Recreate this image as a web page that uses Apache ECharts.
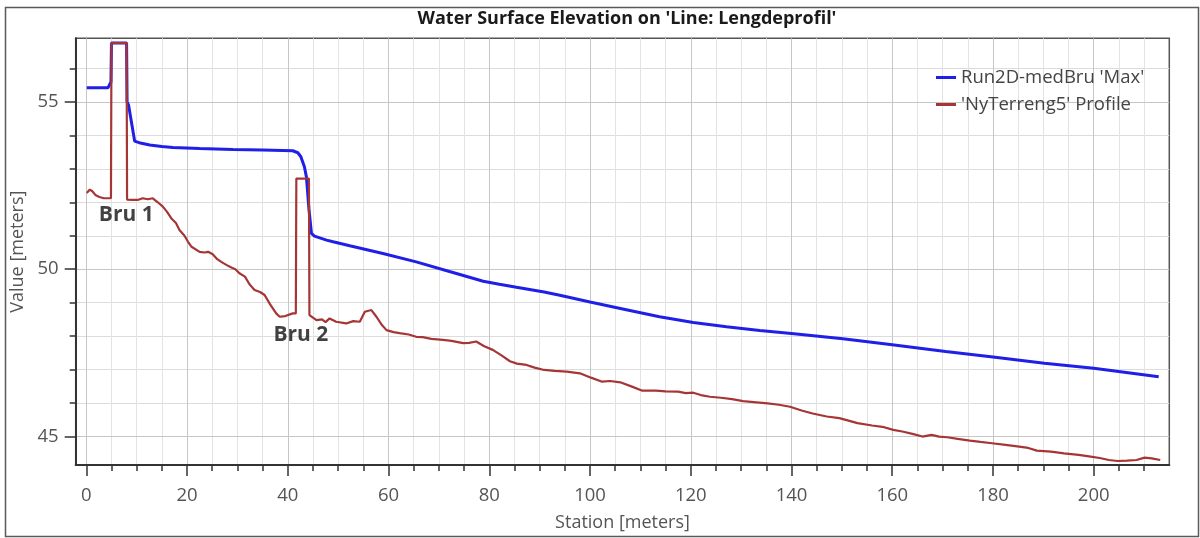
<!DOCTYPE html>
<html>
<head>
<meta charset="utf-8">
<script src="https://cdn.jsdelivr.net/npm/echarts@6/dist/echarts.min.js"></script>
<style>
  html, body { margin: 0; padding: 0; background: #ffffff; }
  #chart { width: 1200px; height: 538px; }
</style>
</head>
<body>
<div id="chart"></div>
<script>
// ---- Data ----
const titleText = "Water Surface Elevation on 'Line: Lengdeprofil'";
const seriesNames = ["Run2D-medBru 'Max'", "'NyTerreng5' Profile"];

const blueStation = [0.1, 4.3, 4.9, 5.0, 8.0, 8.1, 8.4, 9.6, 10.5, 12.6, 15, 17.2, 22.5, 29.1, 35, 41.0, 42.0, 42.6, 43.3, 43.7, 44.2, 44.7, 45.3, 47.7, 49.0, 52.3, 58.9, 65.5, 72.1, 78.8, 82, 85.4, 90.9, 94.0, 100, 107.2, 113.8, 120.5, 127.1, 133.7, 140, 150.2, 160, 170.6, 180, 190.2, 200, 212.9];
const blueValue = [55.42, 55.42, 55.6, 56.76, 56.76, 55.0, 54.9, 53.83, 53.78, 53.71, 53.67, 53.64, 53.61, 53.58, 53.56, 53.54, 53.48, 53.36, 53.06, 52.76, 51.8, 51.07, 50.99, 50.87, 50.82, 50.70, 50.47, 50.22, 49.93, 49.64, 49.55, 49.46, 49.32, 49.22, 49.02, 48.79, 48.58, 48.41, 48.28, 48.17, 48.08, 47.92, 47.74, 47.54, 47.38, 47.19, 47.04, 46.79];

const redStation = [0.1, 0.7, 1.2, 1.8, 2.6, 3.5, 4.9, 5.0, 8.0, 8.1, 9.0, 10.2, 11.2, 12.2, 13.2, 14.2, 15.2, 16.0, 17.0, 17.8, 18.5, 19.5, 20.2, 20.9, 22.5, 23.5, 24.2, 25.1, 26.0, 26.8, 27.8, 28.8, 29.6, 30.4, 31.5, 32.4, 33.4, 34.5, 35.4, 36.5, 37.7, 38.4, 39.5, 41.0, 41.6, 41.7, 44.2, 44.3, 45.7, 46.8, 47.5, 48.3, 49.6, 51.6, 53.0, 54.3, 55.3, 56.6, 57.6, 58.6, 59.6, 61.0, 62.2, 64.0, 65.5, 66.8, 68.5, 70.8, 72.5, 74.8, 76.0, 77.4, 79.0, 80.7, 82.5, 84.1, 85.5, 87.4, 89.0, 90.9, 93.0, 95.4, 98.0, 100.2, 102.4, 104.0, 106, 108.2, 110.4, 113.1, 115.0, 117.5, 119.0, 120.5, 122.0, 123.8, 126, 128.2, 130.4, 132.5, 135.3, 137.5, 139.7, 142, 144.2, 147, 149.5, 151.5, 153.1, 156, 158.4, 160.2, 162, 164, 166, 167.8, 169.3, 170.9, 173, 175.4, 177.5, 179.8, 182.5, 185.2, 187, 188.7, 191.5, 194.1, 197, 199.4, 201.2, 203, 204.8, 206.6, 208.5, 210.1, 211.5, 213.2];
const redValue = [52.28, 52.38, 52.33, 52.22, 52.16, 52.12, 52.12, 56.76, 56.76, 52.08, 52.07, 52.07, 52.12, 52.09, 52.12, 52.0, 51.87, 51.72, 51.5, 51.38, 51.17, 51.0, 50.82, 50.67, 50.52, 50.5, 50.52, 50.45, 50.3, 50.22, 50.13, 50.05, 50.0, 49.88, 49.78, 49.55, 49.38, 49.32, 49.23, 48.95, 48.68, 48.58, 48.6, 48.68, 48.68, 52.71, 52.71, 48.63, 48.48, 48.5, 48.42, 48.53, 48.43, 48.38, 48.45, 48.43, 48.73, 48.78, 48.58, 48.35, 48.18, 48.12, 48.09, 48.05, 47.98, 47.97, 47.92, 47.89, 47.86, 47.79, 47.8, 47.84, 47.7, 47.59, 47.42, 47.25, 47.18, 47.14, 47.06, 46.99, 46.96, 46.94, 46.89, 46.76, 46.64, 46.66, 46.62, 46.5, 46.37, 46.37, 46.35, 46.34, 46.3, 46.31, 46.24, 46.19, 46.16, 46.12, 46.06, 46.03, 45.99, 45.95, 45.89, 45.78, 45.69, 45.6, 45.55, 45.47, 45.40, 45.33, 45.28, 45.2, 45.15, 45.08, 45.0, 45.05, 45.0, 44.98, 44.93, 44.88, 44.84, 44.80, 44.75, 44.70, 44.66, 44.58, 44.55, 44.50, 44.45, 44.40, 44.36, 44.30, 44.27, 44.28, 44.30, 44.37, 44.35, 44.30];

const annotationLabels = ["Bru 1", "Bru 2"];
const annotationStation = [7.94, 42.6];
const annotationValue = [51.62, 48.04];

const xMajorTicks = [0, 20, 40, 60, 80, 100, 120, 140, 160, 180, 200];
const xMinorTicks = [5, 10, 15, 25, 30, 35, 45, 50, 55, 65, 70, 75, 85, 90, 95, 105, 110, 115, 125, 130, 135, 145, 150, 155, 165, 170, 175, 185, 190, 195, 205, 210];
const yMajorTicks = [45, 50, 55];
const yMinorTicks = [46, 47, 48, 49, 51, 52, 53, 54, 56];

const xName = "Station [meters]";
const yName = "Value [meters]";

// ---- Build ----
const zip = (a, b) => a.map((v, i) => [v, b[i]]);
const FONT = "Open Sans";
const X_MIN = -2.1, X_MAX = 215, Y_MIN = 44.15, Y_MAX = 56.9;

const chart = echarts.init(document.getElementById('chart'), null, { renderer: 'canvas' });

const xBase = {
  type: 'value', min: X_MIN, max: X_MAX, position: 'bottom', gridIndex: 0
};
const yBase = {
  type: 'value', min: Y_MIN, max: Y_MAX, position: 'left', gridIndex: 0
};

chart.setOption({
  animation: false,
  backgroundColor: '#ffffff',
  title: {
    text: titleText,
    left: 622, textAlign: 'center', top: 5,
    textStyle: { fontFamily: FONT, fontWeight: 'bold', fontSize: 18, color: '#1a1a1a' }
  },
  graphic: [{
    type: 'rect', silent: true, z: -10,
    shape: { x: 5.5, y: 7.5, width: 1193, height: 529 },
    style: { fill: 'none', stroke: '#5a5a5a', lineWidth: 1.5 }
  }],
  legend: {
    data: seriesNames,
    orient: 'vertical',
    left: 931, top: 63,
    itemWidth: 20, itemHeight: 3, itemGap: 8,
    icon: 'rect',
    textStyle: { fontFamily: FONT, fontSize: 18.5, color: '#444' }
  },
  grid: {
    left: 75.7, right: 30.7, top: 38.3, bottom: 73,
    show: true, borderColor: '#555', borderWidth: 1.5, backgroundColor: '#ffffff',
    containLabel: false, outerBoundsMode: 'none'
  },
  xAxis: [
    Object.assign({}, xBase, {
      z: 3,
      name: xName, nameLocation: 'middle', nameGap: 49,
      nameTextStyle: { fontFamily: FONT, fontSize: 18, color: '#555' },
      axisLine: { show: true, onZero: false, lineStyle: { color: '#333', width: 2 } },
      axisTick: { show: true, customValues: xMajorTicks, length: 11, lineStyle: { color: '#333', width: 1.5 } },
      axisLabel: { show: true, customValues: xMajorTicks, margin: 21, fontFamily: FONT, fontSize: 18.5, color: '#555' },
      splitLine: { show: true, lineStyle: { color: '#c6c6c6', width: 1 } }
    }),
    Object.assign({}, xBase, {
      z: 2,
      axisLine: { show: false, onZero: false },
      axisTick: { show: true, customValues: xMinorTicks, length: 6, lineStyle: { color: '#333', width: 1.5 } },
      axisLabel: { show: false },
      splitLine: { show: true, lineStyle: { color: '#e3e3e3', width: 1 } }
    })
  ],
  yAxis: [
    Object.assign({}, yBase, {
      z: 3,
      name: yName, nameLocation: 'middle', nameGap: 47,
      nameTextStyle: { fontFamily: FONT, fontSize: 18, color: '#555' },
      axisLine: { show: true, onZero: false, lineStyle: { color: '#333', width: 2 } },
      axisTick: { show: true, customValues: yMajorTicks, length: 11, lineStyle: { color: '#333', width: 1.5 } },
      axisLabel: { show: true, customValues: yMajorTicks, margin: 17, fontFamily: FONT, fontSize: 18.5, color: '#555' },
      splitLine: { show: true, lineStyle: { color: '#c6c6c6', width: 1 } }
    }),
    Object.assign({}, yBase, {
      z: 2,
      axisLine: { show: false, onZero: false },
      axisTick: { show: true, customValues: yMinorTicks, length: 6, lineStyle: { color: '#333', width: 1.5 } },
      axisLabel: { show: false },
      splitLine: { show: true, lineStyle: { color: '#dcdcdc', width: 1 } }
    })
  ],
  series: [
    {
      name: seriesNames[0], type: 'line', xAxisIndex: 0, yAxisIndex: 0,
      data: zip(blueStation, blueValue),
      showSymbol: false, symbol: 'none', smooth: false, z: 4,
      lineStyle: { color: '#1f1fe8', width: 3 },
      itemStyle: { color: '#1f1fe8' }
    },
    {
      name: seriesNames[1], type: 'line', xAxisIndex: 0, yAxisIndex: 0,
      data: zip(redStation, redValue),
      showSymbol: false, symbol: 'none', smooth: false, z: 5,
      lineStyle: { color: '#a63636', width: 2.2 },
      itemStyle: { color: '#a63636' }
    },
    {
      name: 'annotations', type: 'scatter', xAxisIndex: 0, yAxisIndex: 0,
      silent: true, symbolSize: 0, z: 6,
      data: annotationStation.map((s, i) => ({ value: [s, annotationValue[i]], name: annotationLabels[i] })),
      label: {
        show: true, position: 'inside', formatter: p => p.name,
        fontFamily: FONT, fontWeight: 'bold', fontSize: 21, color: '#111'
      }
    }
  ]
});
</script>
</body>
</html>
